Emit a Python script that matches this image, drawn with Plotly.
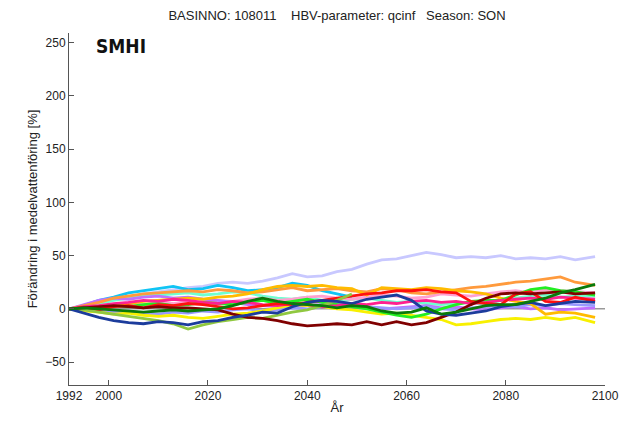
import plotly.graph_objects as go

YEARS = [1992, 1995, 1998, 2001, 2004, 2007, 2010, 2013, 2016, 2019, 2022, 2025,
         2028, 2031, 2034, 2037, 2040, 2043, 2046, 2049, 2052, 2055, 2058, 2061,
         2064, 2067, 2070, 2073, 2076, 2079, 2082, 2085, 2088, 2091, 2094, 2098]

lavender = [0, 2, 5, 9, 11, 14, 16, 18, 20, 21, 24, 25, 24, 26, 29, 33, 30, 31, 35, 37,
            42, 46, 47, 50, 53, 51, 48, 49, 48, 50, 47, 48, 47, 49, 46, 49]
cyan = [0, 3, 8, 11, 15, 17, 19, 21, 18, 19, 22, 20, 17, 18, 20, 24, 22, 17, 14, 11]
aquamarine = [0, 2, 5, 8, 10, 12, 13, 14, 15, 13, 14, 16, 15, 12, 10, 9, 11, 8, 7, 9,
              10, 8, 6, 7, 5, 4, 5, 6, 4, 8, 10, 12, 13, 11, 12, 12]
pink = [0, 1, 3, 4, 5, 4, 6, 5, 7, 6, 8, 7, 9, 10, 8, 9, 11, 12, 10, 9,
        11, 13, 12, 10, 11, 14, 13, 12, 14, 16, 17, 15, 18, 17, 16, 15]
violet = [0, 4, 8, 10, 9, 11, 12, 10, 11, 9, 8, 6, 4, 3, 2, 1, 3, 4, 5, 4,
          2, 0, 1, 2, 3, 1, 2, 0, -1, 1, 2, 0, 1, -1, 0, 1]
slateblue = [0, -1, -2, -3, -2, -4, -5, -3, -4, -2, -3, -1, 0, -2, -1, 1, 0, 2, 1, 3,
             2, 1, 0, 1, 2, 0, -1, 1, 2, 3, 2, 4, 3, 5, 4, 3]
orange = [0, 3, 6, 10, 12, 14, 15, 16, 17, 16, 18, 17, 15, 16, 18, 20, 17, 18, 19, 17,
          16, 19, 18, 15, 14, 16, 18, 20, 21, 23, 25, 26, 28, 30, 25, 22]
gold = [0, 1, 2, 4, 5, 7, 8, 9, 10, 9, 11, 12, 14, 18, 21, 22, 21, 22, 20, 19,
        13, 20, 19, 18, 20, 19, 17, 16, 14, 10, 7, 5, -5, -3, -4, -8]
yellow = [0, -2, -3, -5, -4, -6, -7, -6, -8, -9, -7, -5, -4, -2, 1, 4, 3, 2, 0, -1,
          -3, -5, -4, -6, -8, -10, -15, -14, -12, -10, -9, -10, -8, -10, -8, -13]
lime = [0, 1, 2, 3, 2, 4, 5, 3, 4, 6, 5, 4, 6, 8, 5, 7, 9, 6, 4, 2,
        0, -3, -6, -8, -5, 0, 4, 7, 8, 8, 13, 18, 20, 17, 16, 13]
deeppink = [0, 2, 3, 5, 6, 8, 7, 9, 8, 6, 5, 7, 6, 4, 3, 5, 4, 2, 3, 5,
            4, 6, 5, 7, 8, 6, 7, 5, 6, 8, 9, 10, 9, 11, 10, 9]
red = [0, 1, -1, 2, 3, 1, 4, 3, 5, 4, 2, 0, 1, 3, 5, 4, 6, 8, 10, 12,
       14, 15, 17, 17, 18, 16, 15, 7, 5, 4, 14, 16, 7, 6, 11, 7]
yellowgreen = [0, -1, -3, -5, -7, -9, -11, -14, -19, -15, -12, -10, -8, -9, -6, -3, -1, 3, 8, 14]
maroon = [0, 1, 2, 3, 2, 1, 2, 1, 1, 0, -1, -5, -8, -9, -11, -14, -16, -15, -14, -15,
          -12, -15, -12, -15, -13, -8, -3, 4, 10, 14, 15, 14, 15, 16, 14, 15]
navy = [0, -4, -8, -11, -13, -14, -12, -13, -15, -12, -11, -8, -6, -3, -4, 2, 6, 8, 7, 5,
        9, 11, 13, 8, -2, -5, -6, -4, -2, 2, 4, 6, 3, 5, 7, 6]
darkgreen = [0, 1, 0, -1, -2, -3, -2, -1, -2, -1, 0, 3, 7, 10, 7, 5, 4, 3, 1, 3,
             2, -2, -4, -3, 1, -5, -3, 0, 3, 4, 4, 7, 10, 15, 18, 23]

SERIES = [
    (lavender, "#c8c8ff"), (cyan, "#10c4f4"), (aquamarine, "#70ffd0"),
    (pink, "#ffa0d0"), (violet, "#c070ff"), (slateblue, "#9999ff"),
    (orange, "#ff9a3c"), (gold, "#ffbb00"), (yellow, "#f8f000"),
    (lime, "#22ee22"), (deeppink, "#ff2090"), (red, "#ff1010"),
    (yellowgreen, "#90c840"), (maroon, "#800000"), (navy, "#1c3c9c"),
    (darkgreen, "#0a7a0a"),
]

X_TICKS = [1992, 2000, 2020, 2040, 2060, 2080, 2100]
Y_TICKS = [-50, 0, 50, 100, 150, 200, 250]

FONT = "Liberation Sans"

fig = go.Figure()
for vals, col in SERIES:
    fig.add_trace(go.Scatter(x=YEARS[:len(vals)], y=vals, mode="lines",
                             line=dict(color=col, width=2.8), showlegend=False,
                             hoverinfo="skip"))

fig.add_shape(type="line", xref="x", yref="y", x0=1992, x1=2100, y0=0, y1=0,
              line=dict(color="#999999", width=1.5), layer="below")

nb = "\u00a0"
fig.add_annotation(xref="x", yref="y", x=1997, y=247, xanchor="left", yanchor="middle",
                   text="<b>SMHI</b>", showarrow=False,
                   font=dict(family="Liberation Sans Narrow, DejaVu Sans Condensed",
                             size=19, color="#111111"))

# the page body adds an 8px margin, so the figure is sized to fit inside it
fig.update_layout(
    width=623, height=414,
    margin=dict(l=61, r=26, t=25, b=37),
    paper_bgcolor="white", plot_bgcolor="white",
    font=dict(family=FONT, size=12, color="#222222"),
    title=dict(text=f"BASINNO: 108011{nb*4}HBV-parameter: qcinf{nb*3}Season: SON",
               x=(337 - 8) / 623, xanchor="center", y=1 - 7 / 414, yanchor="middle",
               font=dict(family=FONT, size=13, color="#222222")),
    xaxis=dict(range=[1992, 2100], tickvals=X_TICKS, ticks="inside", ticklen=5,
               tickcolor="#555555", showline=True, linecolor="#555555", linewidth=1,
               showgrid=False, zeroline=False, automargin=False,
               tickfont=dict(family=FONT, size=12),
               title=dict(text="År", standoff=0, font=dict(family=FONT, size=13))),
    yaxis=dict(range=[-71.5, 259], tickvals=Y_TICKS, ticks="inside", ticklen=5,
               tickcolor="#555555", showline=True, linecolor="#555555", linewidth=1,
               showgrid=False, zeroline=False, automargin=False,
               tickfont=dict(family=FONT, size=12),
               title=dict(text="Förändring i medelvattenföring [%]", standoff=4,
                          font=dict(family=FONT, size=13))),
)

fig.write_html("out.html")
